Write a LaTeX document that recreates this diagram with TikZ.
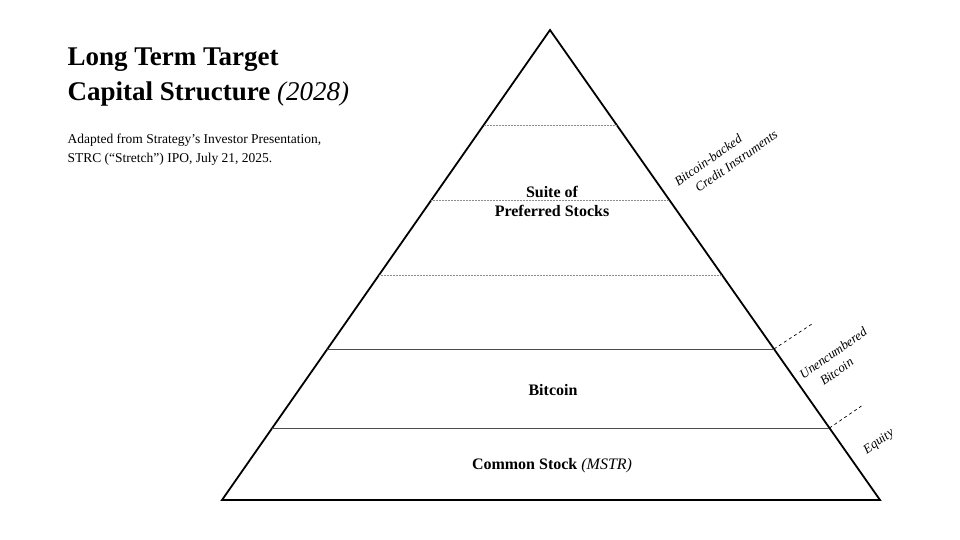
\documentclass[tikz,border=0pt]{standalone}
\usepackage{fontspec}
\setmainfont{Liberation Serif}
\usetikzlibrary{calc}
\usepackage{xcolor}

\begin{document}
\begin{tikzpicture}[x=1pt,y=-1pt,
    layer/.style={font=\fontsize{16}{19}\selectfont\bfseries, align=center},
    side/.style={font=\fontsize{13}{17}\selectfont\itshape, align=left, rotate=35},
    sep/.style={draw=black!70, line width=0.7pt},
    guide/.style={draw=black!45, densely dotted, line width=0.5pt}]

      \useasboundingbox (0,0) rectangle (960,540);

      % Title
      \node[anchor=north west, align=left, font=\fontsize{27}{35}\selectfont\bfseries] (title) at (64,44)
        {Long Term Target\\Capital Structure \textnormal{\itshape(2028)}};
      \node[anchor=north west, align=left, font=\fontsize{13.5}{19}\selectfont] (source) at (64,130)
        {Adapted from Strategy’s Investor Presentation,\\STRC (“Stretch”) IPO, July 21, 2025.};

      % Pyramid
      \coordinate (top) at (550,30);
      \coordinate (left) at (222,500);
      \coordinate (right) at (880,500);
      \draw[line width=1.8pt, line join=miter] (top) -- (left) -- (right) -- cycle;

      % Layers
      \foreach \y in {125,200,275}
      {
        \path[guide] ($(top)!{(\y-30)/470}!(left)$) -- ($(top)!{(\y-30)/470}!(right)$);
      }
      \coordinate (b1) at ($(top)!{319/470}!(right)$);
      \coordinate (b2) at ($(top)!{398/470}!(right)$);
      \path[sep] ($(top)!{319/470}!(left)$) -- (b1);
      \path[sep] ($(top)!{398/470}!(left)$) -- (b2);

      % Brackets on the right
      \coordinate (d1) at ($(b1)+(38,-25)$);
      \coordinate (d2) at ($(b2)+(32,-22)$);
      \draw[dashed, line width=0.7pt] (b1) -- (d1);
      \draw[dashed, line width=0.7pt] (b2) -- (d2);

      \node[layer] (pref) at (552,201) {Suite of\\Preferred Stocks};
      \node[layer] (btc) at (553,390) {Bitcoin};
      \node[layer] (common) at (552,466) {Common Stock \textnormal{\itshape(MSTR)}};

      \node[side] (credit) at (726,158) {Bitcoin-backed\\\quad Credit Instruments};
      \node[side] (unenc) at (838,360) {Unencumbered\\\quad Bitcoin};
      \node[side] (equity) at (879,442) {Equity};

\end{tikzpicture}
\end{document}
